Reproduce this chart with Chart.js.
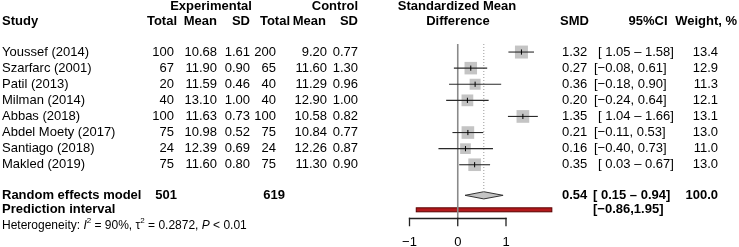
<!DOCTYPE html>
<html><head><meta charset="utf-8">
<script src="https://cdn.jsdelivr.net/npm/chart.js@4/dist/chart.umd.min.js"></script>
<style>html,body{margin:0;padding:0;background:#fff}canvas{display:block}</style>
</head><body>
<canvas id="c" width="739" height="247"></canvas>
<script>
// ---- data ----
const studies = ["Youssef (2014)","Szarfarc (2001)","Patil (2013)","Milman (2014)","Abbas (2018)","Abdel Moety (2017)","Santiago (2018)","Makled (2019)"];
const expTotal = [100,67,20,40,100,75,24,75];
const expMean  = [10.68,11.90,11.59,13.10,11.63,10.98,12.39,11.60];
const expSD    = [1.61,0.90,0.46,1.00,0.73,0.52,0.69,0.80];
const ctlTotal = [200,65,40,40,100,75,24,75];
const ctlMean  = [9.20,11.60,11.29,12.90,10.58,10.84,12.26,11.30];
const ctlSD    = [0.77,1.30,0.96,1.00,0.82,0.77,0.87,0.90];
const smd      = [1.32,0.27,0.36,0.20,1.35,0.21,0.16,0.35];
const ciLow    = [1.05,-0.08,-0.18,-0.24,1.04,-0.11,-0.40,0.03];
const ciHigh   = [1.58,0.61,0.90,0.64,1.66,0.53,0.73,0.67];
const weights  = [13.4,12.9,11.3,12.1,13.1,13.0,11.0,13.0];
const ciLabels = ["[ 1.05 \u2013 1.58]","[\u22120.08, 0.61]","[\u22120.18, 0.90]","[\u22120.24, 0.64]","[ 1.04 \u2013 1.66]","[\u22120.11, 0.53]","[\u22120.40, 0.73]","[ 0.03 \u2013 0.67]"];
const pooledSMD = [0.54];
const pooledCI = [0.15, 0.94];
const pooledLabel = ["0.54","[ 0.15 \u2013 0.94]","100.0"];
const pooledTotals = [501, 619];
const predInterval = [-0.86, 1.95];
const predLabel = ["[\u22120.86,1.95]"];
const xTicks = [-1, 0, 1];

// ---- layout constants ----
const FONT = '"Liberation Sans", Arial, Helvetica, sans-serif';
const ROW_POOLED = 8.9, ROW_PRED = 9.8, ROW_HET = 10.8;
const X_MIN = -1.6, X_MAX = 2.2;

const squares = smd.map((v,i)=>({x:v,y:i}));
const ciSets = smd.map((v,i)=>({
  type:'scatter', showLine:true, data:[{x:ciLow[i],y:i},{x:ciHigh[i],y:i}],
  pointRadius:0, borderColor:'#2a2a2a', borderWidth:1.1, clip:false, order:1
}));

const forestPlugin = {
  id:'forest',
  beforeDatasetsDraw(chart){
    const {ctx, chartArea:a, scales:{x,y}} = chart;
    ctx.save();
    // prediction interval bar
    const py = y.getPixelForValue(ROW_PRED);
    const px1 = x.getPixelForValue(predInterval[0]), px2 = x.getPixelForValue(predInterval[1]);
    ctx.fillStyle = '#b3191c'; ctx.strokeStyle = '#5a0000'; ctx.lineWidth = 1;
    ctx.fillRect(px1, py-2, px2-px1, 4);
    ctx.strokeRect(px1, py-2, px2-px1, 4);
    // diamond
    const dy = y.getPixelForValue(ROW_POOLED);
    ctx.beginPath();
    ctx.moveTo(x.getPixelForValue(pooledCI[0]), dy);
    ctx.lineTo(x.getPixelForValue(pooledSMD[0]), dy-3.6);
    ctx.lineTo(x.getPixelForValue(pooledCI[1]), dy);
    ctx.lineTo(x.getPixelForValue(pooledSMD[0]), dy+3.6);
    ctx.closePath();
    ctx.fillStyle = '#c4c4c4'; ctx.fill();
    ctx.strokeStyle = '#333'; ctx.lineWidth = 1; ctx.stroke();
    // zero line
    const x0 = x.getPixelForValue(0);
    ctx.strokeStyle = '#8a8a8a'; ctx.lineWidth = 1.6;
    ctx.beginPath(); ctx.moveTo(x0, a.top); ctx.lineTo(x0, a.bottom); ctx.stroke();
    // pooled dotted line
    const xp = x.getPixelForValue(pooledSMD[0]);
    ctx.strokeStyle = '#9a9a9a'; ctx.lineWidth = 1; ctx.setLineDash([1,2]);
    ctx.beginPath(); ctx.moveTo(xp, a.top); ctx.lineTo(xp, dy-3.6); ctx.stroke();
    ctx.restore();
  },
  afterDraw(chart){
    const {ctx, chartArea:a, scales:{x,y}} = chart;
    ctx.save();
    // x axis line and tick marks, from the library's x scale
    const ay = a.bottom;
    ctx.strokeStyle = '#222'; ctx.lineWidth = 1.3; ctx.lineCap = 'square';
    ctx.beginPath();
    ctx.moveTo(x.getPixelForValue(xTicks[0]), ay);
    ctx.lineTo(x.getPixelForValue(xTicks[xTicks.length-1]), ay);
    ctx.stroke();
    ctx.beginPath();
    x.ticks.forEach(tk=>{
      const tx = x.getPixelForValue(tk.value);
      ctx.moveTo(tx, ay); ctx.lineTo(tx, ay + 7);
    });
    ctx.stroke();

    ctx.fillStyle = '#000';
    ctx.textBaseline = 'middle';
    const t = (s, px, py, align, bold) => {
      ctx.font = (bold ? 'bold ' : '') + '13px ' + FONT;
      ctx.textAlign = align; ctx.fillText(s, px, py);
    };
    // headers
    t('Experimental', 211, 6, 'center', true);
    t('Control', 358, 6, 'right', true);
    t('Standardized Mean', 457, 6, 'center', true);
    t('Study', 2, 21.5, 'left', true);
    t('Total', 177, 21.5, 'right', true);
    t('Mean', 217, 21.5, 'right', true);
    t('SD', 250, 21.5, 'right', true);
    t('Total', 290, 21.5, 'right', true);
    t('Mean', 326, 21.5, 'right', true);
    t('SD', 358, 21.5, 'right', true);
    t('Difference', 458, 21.5, 'center', true);
    t('SMD', 560, 21.5, 'left', true);
    t('95%CI', 648, 21.5, 'center', true);
    t('Weight, %', 737, 21.5, 'right', true);
    // study rows
    studies.forEach((s,i)=>{
      const py = y.getPixelForValue(i);
      t(s, 2, py, 'left');
      t(String(expTotal[i]), 174, py, 'right');
      t(expMean[i].toFixed(2), 217, py, 'right');
      t(expSD[i].toFixed(2), 250, py, 'right');
      t(String(ctlTotal[i]), 276, py, 'right');
      t(ctlMean[i].toFixed(2), 327, py, 'right');
      t(ctlSD[i].toFixed(2), 358, py, 'right');
      t(smd[i].toFixed(2), 562, py, 'left');
      t(ciLabels[i], ciLabels[i].indexOf('\u2013')>=0 ? 598 : 594, py, 'left');
      t(weights[i].toFixed(1), 718, py, 'right');
    });
    // pooled
    const ry = y.getPixelForValue(ROW_POOLED);
    t('Random effects model', 2, ry, 'left', true);
    t(String(pooledTotals[0]), 177, ry, 'right', true);
    t(String(pooledTotals[1]), 285, ry, 'right', true);
    t(pooledLabel[0], 562, ry, 'left', true);
    t(pooledLabel[1], 593, ry, 'left', true);
    t(pooledLabel[2], 718, ry, 'right', true);
    const pyy = y.getPixelForValue(ROW_PRED);
    t('Prediction interval', 2, pyy, 'left', true);
    t(predLabel[0], 593, pyy, 'left', true);
    // heterogeneity
    const hy = y.getPixelForValue(ROW_HET);
    let hx = 2;
    const run = (s, style, size, dy) => {
      ctx.font = (style||'') + ' ' + size + 'px ' + FONT;
      ctx.textAlign = 'left';
      ctx.fillText(s, hx, hy + (dy||0));
      hx += ctx.measureText(s).width;
    };
    run('Heterogeneity: ', '', 12);
    run('I', 'italic', 12);
    run('2', '', 8, -5);
    run(' = 90%, \u03c4', '', 12);
    run('2', '', 8, -5);
    run(' = 0.2872, ', '', 12);
    run('P', 'italic', 12);
    run(' < 0.01', '', 12);
    ctx.restore();
  }
};

const PX_PER_UNIT = 48.25, X_ZERO = 457.75;
new Chart(document.getElementById('c'), {
  type:'scatter',
  data:{ datasets:[
    { data:squares, pointStyle:'line', rotation:90, pointRadius:2.6, borderColor:'#000', borderWidth:1, clip:false, order:0 },
    ...ciSets,
    { data:squares, pointStyle:'rect', pointRadius:weights.map(w=>w*0.97/(2*Math.SQRT1_2)),
      backgroundColor:'#c4c4c4', borderWidth:0, clip:false, order:2 }
  ]},
  options:{
    responsive:false, animation:false, devicePixelRatio:1,
    layout:{ padding:{ left:X_ZERO + X_MIN*PX_PER_UNIT, right:739 - (X_ZERO + X_MAX*PX_PER_UNIT), top:44, bottom:0 } },
    plugins:{ legend:{display:false}, tooltip:{enabled:false} },
    elements:{ point:{ hoverRadius:0 } },
    scales:{
      x:{ type:'linear', position:'bottom', bounds:'data',
        afterDataLimits:s=>{ s.min = X_MIN; s.max = X_MAX; },
        afterBuildTicks:s=>{ s.ticks = xTicks.map(v=>({value:v})); },
        afterFit:s=>{ s.height = 28.5; },
        grid:{ drawOnChartArea:false, drawTicks:true, tickLength:7, color:'rgba(0,0,0,0)' },
        border:{ display:false },
        ticks:{ padding:9, color:'#000', font:{ size:13, family:FONT },
          callback:v=> v<0 ? '\u2212'+Math.abs(v) : String(v) }
      },
      y:{ type:'linear', display:false, reverse:true, bounds:'data', min:-0.5, max:10.34 }
    }
  },
  plugins:[forestPlugin]
});
</script>
</body></html>
